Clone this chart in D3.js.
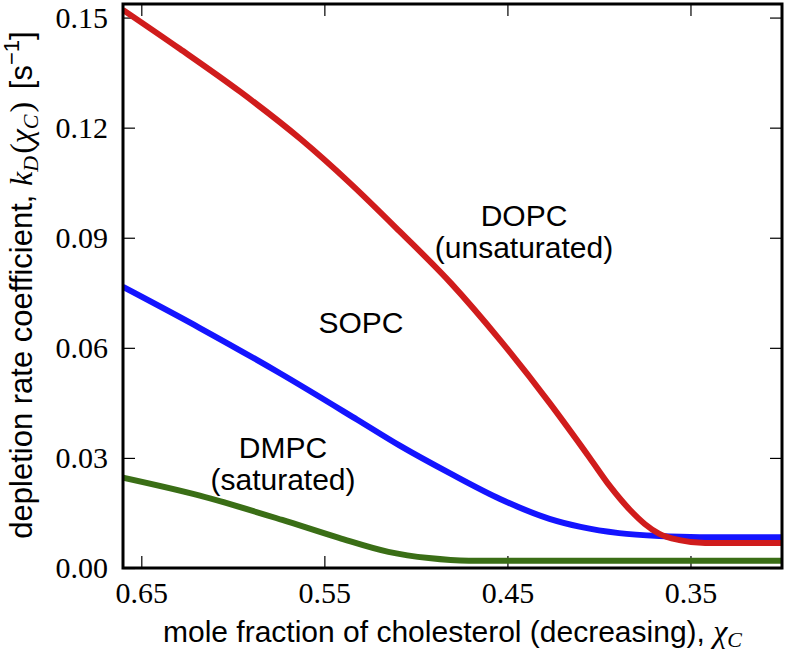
<!DOCTYPE html>
<html>
<head>
<meta charset="utf-8">
<script src="https://cdn.jsdelivr.net/npm/d3@7"></script>
<style>
body{margin:0;background:#fff}
svg{display:block}
</style>
</head>
<body>
<svg width="789" height="654"></svg>
<script>
// cholesterol mole fraction (x) and depletion rate coefficient k_D (y)
const chiDOPC=[0.660,0.629,0.596,0.563,0.536,0.509,0.481,0.454,0.427,0.405,0.394,0.383,0.375,0.367,0.356,0.342,0.300]
const kDOPC=[0.1521,0.1415,0.1298,0.1169,0.1049,0.0918,0.0777,0.0621,0.0450,0.0300,0.0223,0.0158,0.0120,0.0093,0.0076,0.0068,0.0068]
const chiSOPC=[0.660,0.618,0.574,0.532,0.509,0.481,0.454,0.427,0.410,0.389,0.367,0.345,0.300]
const kSOPC=[0.0766,0.0654,0.0530,0.0404,0.0334,0.0257,0.0188,0.0134,0.0112,0.0095,0.0087,0.0084,0.0084]
const chiDMPC=[0.660,0.618,0.573,0.542,0.515,0.493,0.471,0.300]
const kDMPC=[0.0246,0.0197,0.0131,0.0082,0.0044,0.0027,0.0020,0.0020]
const xTicks=[0.65,0.55,0.45,0.35]
const yTicks=[0.00,0.03,0.06,0.09,0.12,0.15]

const svg=d3.select("svg")
const L=123,R=782,T=4,B=568

const x=d3.scaleLinear().domain([0.66,0.30]).range([L,R])
const y=d3.scaleLinear().domain([0,0.1537]).range([B,T])

const serif="'Liberation Serif','Times New Roman',serif"
const sans="'Liberation Sans',Arial,sans-serif"

svg.append("clipPath").attr("id","clip").append("rect")
.attr("x",L).attr("y",T).attr("width",R-L).attr("height",B-T)

// axes, ticks pointing in on every side
const fmt=d3.format(".2f")
let gx=svg.append("g").attr("transform",`translate(0,${B})`)
.call(d3.axisBottom(x).tickValues(xTicks).tickFormat(fmt).tickSize(-12).tickPadding(14))
let gy=svg.append("g").attr("transform",`translate(${L},0)`)
.call(d3.axisLeft(y).tickValues(yTicks).tickFormat(fmt).tickSize(-12).tickPadding(15))
let gt=svg.append("g").attr("transform",`translate(0,${T})`)
.call(d3.axisTop(x).tickValues(xTicks).tickFormat("").tickSize(-12))
let gr=svg.append("g").attr("transform",`translate(${R},0)`)
.call(d3.axisRight(y).tickValues(yTicks).tickFormat("").tickSize(-12))
for(let g of [gx,gy,gt,gr]){
g.select(".domain").remove()
g.selectAll(".tick line").attr("stroke","#000").attr("stroke-width",1.2)
g.selectAll("text").attr("font-family",serif).attr("font-size",30).attr("fill","#000")
}

const line=d3.line().x(d=>x(d[0])).y(d=>y(d[1])).curve(d3.curveMonotoneX)
const series=[
[chiDMPC,kDMPC,"#3a6e16"],
[chiSOPC,kSOPC,"#1414ff"],
[chiDOPC,kDOPC,"#d01c1c"]
]
for(let s of series){
svg.append("path").attr("clip-path","url(#clip)")
.attr("d",line(d3.zip(s[0],s[1])))
.attr("fill","none").attr("stroke",s[2]).attr("stroke-width",6)
}

svg.append("rect").attr("x",L).attr("y",T).attr("width",R-L).attr("height",B-T)
.attr("fill","none").attr("stroke","#000").attr("stroke-width",3)

// curve annotations
note=(tx,ty,lines)=>{
let t=svg.append("text").attr("font-family",sans).attr("font-size",30)
.attr("text-anchor","middle").attr("fill","#000")
lines.forEach((s,i)=>{
t.append("tspan").attr("x",tx).attr("y",ty+i*32).text(s)
})
}
note(524,226,["DOPC","(unsaturated)"])
note(361,333,["SOPC"])
note(283,458,["DMPC","(saturated)"])

// x label
let xl=svg.append("text").attr("x",(L+R)/2).attr("y",642).attr("text-anchor","middle")
.attr("font-family",sans).attr("font-size",30).attr("fill","#000")
xl.append("tspan").text("mole fraction of cholesterol (decreasing), ")
xl.append("tspan").attr("font-family",serif).attr("font-style","italic").attr("font-size",32).text("χ")
xl.append("tspan").attr("font-family",serif).attr("font-style","italic").attr("font-size",22).attr("dy",5).text("C")

// y label
let yl=svg.append("text").attr("transform",`translate(32,285) rotate(-90)`)
.attr("text-anchor","middle").attr("font-family",sans).attr("font-size",31).attr("fill","#000")
yl.append("tspan").text("depletion rate coefficient, ")
let m=(s,o)=>{
let t=yl.append("tspan").attr("font-family",serif).attr("font-size",o.sub?22:32).text(s)
if(o.it)t.attr("font-style","italic")
if(o.dy)t.attr("dy",o.dy)
if(o.dx)t.attr("dx",o.dx)
}
m("k",{it:1})
m("D",{it:1,sub:1,dy:6})
m("(",{dy:-6,dx:2})
m("χ",{it:1})
m("C",{it:1,sub:1,dy:6})
m(")",{dy:-6,dx:2})
yl.append("tspan").attr("dx",4).text(" [s")
yl.append("tspan").attr("font-size",22).attr("dy",-13).text("−1")
yl.append("tspan").attr("dy",13).text("]")
</script>
</body>
</html>
